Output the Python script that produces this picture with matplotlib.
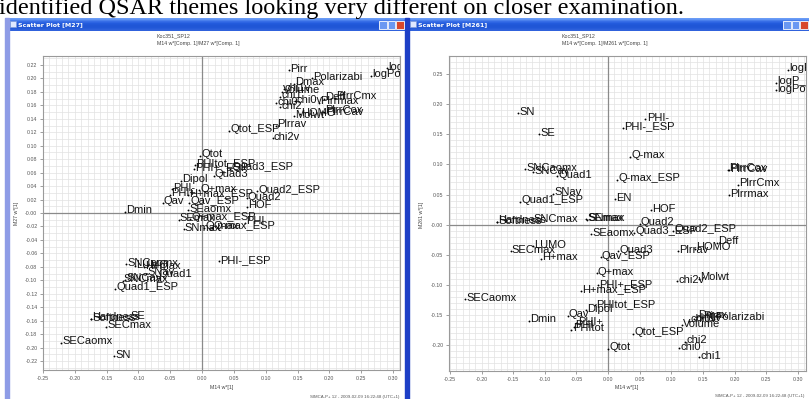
#!/usr/bin/env python3
"""
Two SIMCA loading-plot windows side by side (w*[1] vs w*[1]).
"""
import numpy as np
import matplotlib
matplotlib.use('Agg')
import matplotlib.pyplot as plt
from matplotlib.patches import Rectangle
from matplotlib.ticker import FixedLocator, MultipleLocator

plt.rcParams['font.family'] = ['Liberation Sans', 'DejaVu Sans']

# ── Data: left window (M14 vs M27) ────────────────────────────
left_labels = ['Pirr', 'Polarizabi', 'logPow', 'logP', 'Dmax', 'chi1v', 'Volume',
               'Deff', 'PlrrCmx', 'chi1', 'chi0v', 'Plrrmax', 'chi0', 'chi2',
               'HOMO', 'Molwt', 'PlrrCox', 'PlrrCav', 'Plrrav', 'Qtot_ESP', 'chi2v',
               'Qtot', 'PHItot_ESP', 'PHI+_ESP', 'Quad3_ESP', 'Quad3', 'Dipol',
               'PHI-', 'Q+max', 'PHI+', 'H+max_ESP', 'Quad2_ESP', 'Quad2', 'Qav',
               'Qav_ESP', 'HOF', 'SEaomx', 'Dmin', 'SEmax', 'Q+max_ESP', 'SNmax',
               'Q-max', 'Q-max_ESP', 'PHI', 'PHI-_ESP', 'SNCaomx', 'LUMO', 'H+max',
               'SNav', 'Quad1', 'SNCmax', 'SNCav', 'Quad1_ESP', 'Hardness',
               'Softness', 'SE', 'SECmax', 'SECaomx', 'SN']
left_x = [0.137, 0.172, 0.265, 0.290, 0.144, 0.128, 0.125,
          0.192, 0.209, 0.123, 0.146, 0.183, 0.116, 0.123,
          0.154, 0.145, 0.191, 0.193, 0.116, 0.042, 0.111,
          -0.003, -0.011, -0.013, 0.044, 0.018, -0.033,
          -0.048, -0.005, -0.051, -0.022, 0.086, 0.070, -0.062,
          -0.020, 0.070, -0.022, -0.121, -0.037, -0.019, -0.029,
          0.003, 0.016, 0.068, 0.026, -0.119, -0.105, -0.092,
          -0.088, -0.071, -0.125, -0.121, -0.137, -0.175,
          -0.174, -0.115, -0.151, -0.222, -0.138]
left_y = [0.212, 0.200, 0.204, 0.215, 0.192, 0.184, 0.180,
          0.170, 0.171, 0.173, 0.166, 0.164, 0.163, 0.157,
          0.147, 0.144, 0.150, 0.148, 0.130, 0.122, 0.111,
          0.085, 0.072, 0.066, 0.066, 0.055, 0.048,
          0.035, 0.034, 0.027, 0.027, 0.032, 0.022, 0.015,
          0.015, 0.009, 0.004, 0.002, -0.010, -0.009, -0.024,
          -0.022, -0.022, -0.015, -0.072, -0.076, -0.079, -0.081,
          -0.090, -0.093, -0.101, -0.099, -0.113, -0.157,
          -0.158, -0.156, -0.169, -0.193, -0.213]

# ── Data: right window (M14 vs M261) ──────────────────────────
right_labels = ['SN', 'SE', 'SNCaomx', 'SNCav', 'Quad1', 'Quad1_ESP', 'SNav',
                'Hardness', 'Softness', 'SNCmax', 'SEmax', 'SNmax', 'SEaomx',
                'SECmax', 'LUMO', 'H+max', 'SECaomx', 'Dmin', 'Qav', 'Dipol',
                'PHI+', 'PHItot', 'PHI', 'Q+max', 'H+max_ESP', 'PHI+_ESP',
                'Qav_ESP', 'Quad3', 'PHItot_ESP', 'Qtot', 'Qtot_ESP', 'Quad2',
                'Quad3_ESP', 'Quad2_ESP', 'HOF', 'EN', 'Q-max_ESP', 'Q-max',
                'PHI-', 'PHI-_ESP', 'PlrrCox', 'PlrrCav', 'PlrrCmx', 'Plrrmax',
                'logP', 'logP_calc', 'logPow', 'Plrrav', 'HOMO', 'Deff', 'chi2v',
                'Molwt', 'Dmax', 'Polarizabi', 'Volume', 'chi0v', 'chi1v', 'Pirr',
                'chi2', 'chi0', 'chi1']
right_x = [-0.142, -0.109, -0.131, -0.119, -0.081, -0.139, -0.087,
           -0.176, -0.175, -0.120, -0.035, -0.033, -0.027,
           -0.154, -0.119, -0.106, -0.226, -0.125, -0.064, -0.035,
           -0.050, -0.058, -0.054, -0.018, -0.043, -0.016,
           -0.012, 0.016, -0.021, 0.000, 0.040, 0.050,
           0.041, 0.103, 0.068, 0.011, 0.014, 0.035,
           0.059, 0.024, 0.190, 0.191, 0.206, 0.191,
           0.285, 0.265, 0.265, 0.111, 0.137, 0.172, 0.109,
           0.144, 0.140, 0.167, 0.117, 0.128, 0.136, 0.148,
           0.122, 0.112, 0.144]
right_y = [0.185, 0.150, 0.092, 0.087, 0.080, 0.038, 0.051,
           0.005, 0.004, 0.007, 0.009, 0.008, -0.016,
           -0.044, -0.036, -0.057, -0.124, -0.160, -0.151, -0.142,
           -0.164, -0.175, -0.170, -0.081, -0.110, -0.101,
           -0.054, -0.044, -0.134, -0.206, -0.181, 0.001,
           -0.014, -0.010, 0.024, 0.042, 0.074, 0.113,
           0.175, 0.161, 0.091, 0.090, 0.066, 0.049,
           0.257, 0.235, 0.223, -0.044, -0.040, -0.030, -0.094,
           -0.090, -0.153, -0.156, -0.167, -0.160, -0.157, -0.155,
           -0.195, -0.205, -0.220]

x_ticks = [-0.25, -0.20, -0.15, -0.10, -0.05, 0.00, 0.05, 0.10, 0.15, 0.20, 0.25, 0.30]
left_y_ticks = [-0.22, -0.20, -0.18, -0.16, -0.14, -0.12, -0.10, -0.08, -0.06, -0.04,
                -0.02, 0.00, 0.02, 0.04, 0.06, 0.08, 0.10, 0.12, 0.14, 0.16, 0.18,
                0.20, 0.22]
right_y_ticks = [-0.20, -0.15, -0.10, -0.05, 0.00, 0.05, 0.10, 0.15, 0.20, 0.25]

W, H = 809, 399
fig = plt.figure(figsize=(W / 100, H / 100), dpi=100)

# background layer in pixel coordinates (y downwards)
bg = fig.add_axes([0, 0, 1, 1], zorder=0)
bg.axis('off')

bg.text(-1, 14, 'identified QSAR themes looking very different on closer examination.',
        family='Liberation Serif', fontsize=17.5, va='baseline', ha='left', color='black')


def grad_bar(x0, x1, y0, y1):
    cols = np.array([[0x6a, 0x9c, 0xf6], [0x3a, 0x70, 0xe8], [0x24, 0x5c, 0xde],
                     [0x20, 0x56, 0xd6], [0x22, 0x58, 0xd8], [0x30, 0x62, 0xdc]]) / 255
    bg.imshow(cols[:, None, :], extent=(x0, x1, y1, y0), aspect='auto',
              interpolation='bilinear', zorder=2)


def window(x0, x1, title, frame_col):
    bg.add_patch(Rectangle((x0, 18), x1 - x0, H - 18, color='white', zorder=1))
    grad_bar(x0, x1, 18, 31)
    bg.add_patch(Rectangle((x0, 18), 4, H - 18, color=frame_col, zorder=3))
    # icon
    bg.add_patch(Rectangle((x0 + 5, 21), 6, 6, facecolor='#dfe8ff', edgecolor='#7f9ad8',
                           lw=0.5, zorder=3))
    bg.text(x0 + 13, 24.5, title, color='white', fontsize=4.5, fontweight='bold',
            va='center', ha='left', zorder=4, family='DejaVu Sans')
    # caption buttons
    for i, c in enumerate(['#6a98f2', '#6a98f2', '#d8482c']):
        bx = x1 - 26 + i * 8.6
        bg.add_patch(Rectangle((bx, 20.5), 7.6, 8.5, facecolor=c, edgecolor='white',
                               lw=0.6, zorder=4))


window(5, 405, 'Scatter Plot [M27]', '#8e9ce6')
window(405, W, 'Scatter Plot [M261]', '#1d3fc6')
bg.set_xlim(0, W)
bg.set_ylim(H, 0)


def px_axes(x0, y0, x1, y1):
    return fig.add_axes([x0 / W, 1 - y1 / H, (x1 - x0) / W, (y1 - y0) / H], zorder=2)


def draw_plot(ax, labels, xs, ys, xlim, ylim, yticks, ystep):
    ax.set_xlim(xlim)
    ax.set_ylim(ylim)
    ax.xaxis.set_major_locator(FixedLocator(x_ticks))
    ax.set_xticklabels(['%.2f' % v for v in x_ticks])
    ax.yaxis.set_major_locator(FixedLocator(yticks))
    ax.set_yticklabels(['-0.00' if v == 0 else '%.2f' % v for v in yticks])
    ax.xaxis.set_minor_locator(MultipleLocator(0.01))
    ax.yaxis.set_minor_locator(MultipleLocator(ystep))
    ax.grid(which='both', color='#e2e2e2', lw=0.5)
    ax.set_axisbelow(True)
    ax.tick_params(which='major', direction='out', length=2.5, width=0.5, color='#777777',
                   labelsize=3.8, labelcolor='#555555', pad=1.5)
    ax.tick_params(which='minor', length=0)
    for s in ax.spines.values():
        s.set_color('#9a9a9a')
        s.set_linewidth(0.8)
    ax.axhline(0, color='#8a8a8a', lw=0.9, zorder=1)
    ax.axvline(0, color='#8a8a8a', lw=0.9, zorder=1)
    ax.scatter(xs, ys, s=1.8, c='black', lw=0, zorder=3)
    for lab, x, y in zip(labels, xs, ys):
        ax.annotate(lab, (x, y), xytext=(0.9, -1.0), textcoords='offset points',
                    fontsize=8, va='baseline', ha='left', color='#111111',
                    clip_on=True, zorder=4)


axL = px_axes(43, 56, 400, 370)
draw_plot(axL, left_labels, left_x, left_y, (-0.25, 0.311), (-0.2334, 0.2334),
          left_y_ticks, 0.01)
axR = px_axes(449, 56, 806, 371)
draw_plot(axR, right_labels, right_x, right_y, (-0.2516, 0.313), (-0.243, 0.280),
          right_y_ticks, 0.01)

# captions, axis names and footers
for x0, mid in [(157, 'M27'), (562, 'M261')]:
    bg.text(x0, 36, 'Koc351_SP12', fontsize=3.8, color='#444444', va='center', ha='left')
    bg.text(x0, 43, 'M14 w*[Comp. 1]/%s w*[Comp. 1]' % mid, fontsize=3.8,
            color='#444444', va='center', ha='left')
bg.text(17, 213, 'M27 w*[1]', rotation=90, fontsize=3.8, color='#444444',
        va='center', ha='center')
bg.text(422, 215, 'M261 w*[1]', rotation=90, fontsize=3.8, color='#444444',
        va='center', ha='center')
bg.text(210, 388, 'M14 w*[1]', fontsize=3.8, color='#444444', va='center', ha='left')
bg.text(615, 388, 'M14 w*[1]', fontsize=3.8, color='#444444', va='center', ha='left')
bg.text(310, 397, 'SIMCA-P+ 12 - 2009-02-09 16:22:48 (UTC+1)', fontsize=3.2,
        color='#555555', va='center', ha='left')
bg.text(715, 396, 'SIMCA-P+ 12 - 2009-02-09 16:22:48 (UTC+1)', fontsize=3.2,
        color='#555555', va='center', ha='left')

fig.savefig('out.png', dpi=100)
